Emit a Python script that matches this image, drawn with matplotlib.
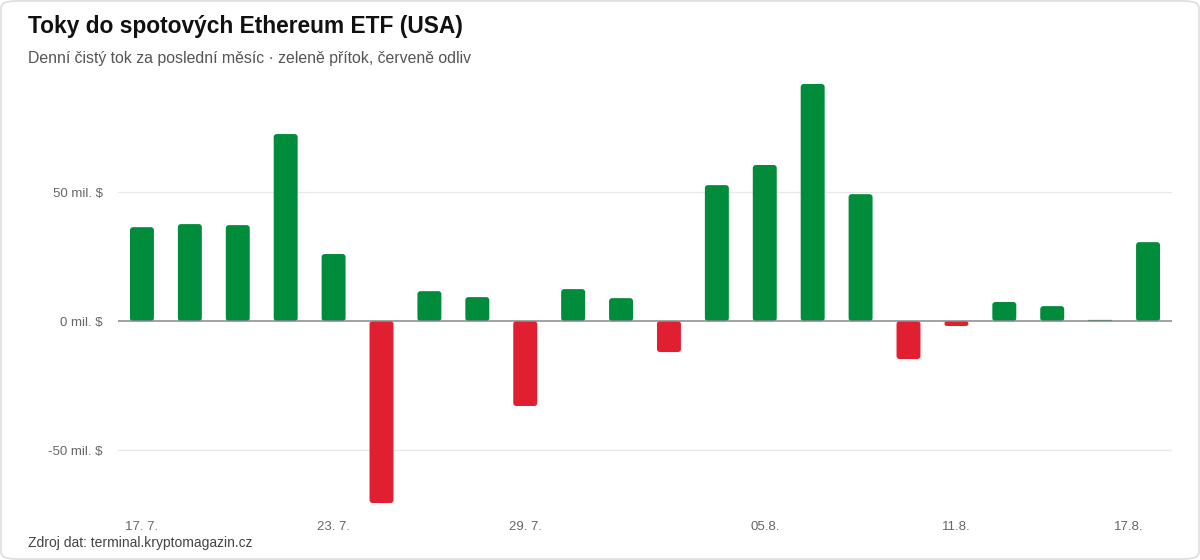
import matplotlib
matplotlib.use("Agg")
import matplotlib.pyplot as plt
from matplotlib.patches import FancyBboxPatch

plt.rcParams['font.family'] = ['Liberation Sans', 'DejaVu Sans']

# daily net flow, mil. USD
flows = [36.4, 37.6, 37.2, 72.5, 26.0, -70.5, 11.6, 9.3, -32.9, 12.4, 8.9,
         -12.0, 52.7, 60.5, 91.9, 49.2, -14.7, -1.9, 7.4, 5.8, 0.0, 30.6]
tick_pos = [0, 4, 8, 13, 17, 20.6]
tick_labels = ["17. 7.", "23. 7.", "29. 7.", "05.8.", "11.8.", "17.8."]
y_ticks = [-50, 0, 50]

GREEN = "#008c3a"
RED = "#e02030"

W, H = 1200, 560
fig = plt.figure(figsize=(W / 100, H / 100), dpi=100)
fig.patch.set_facecolor("white")

# card border
card = FancyBboxPatch((1 / W, 1 / H), 1 - 2 / W, 1 - 2 / H,
                      boxstyle="round,pad=0,rounding_size=0.012",
                      transform=fig.transFigure, facecolor="white",
                      edgecolor="#dddddd", linewidth=1.2, zorder=-10)
fig.patches.append(card)

ax_w, ax_h = 1172 - 118, 503 - 84
ax = fig.add_axes([118 / W, 1 - 503 / H, ax_w / W, ax_h / H])
ax.set_facecolor("none")

ax.set_xlim(-0.5, len(flows) - 0.5)
ax.set_ylim(min(flows), max(flows))

# px per data unit, for rounded bar corners
px_x = ax_w / (len(flows))
px_y = ax_h / (max(flows) - min(flows))

colors = [GREEN if v >= 0 else RED for v in flows]
bars = ax.bar(range(len(flows)), flows, width=0.5, color=colors)
for b, c in zip(bars, colors):
    x0, y0 = b.get_x(), b.get_y()
    w, h = b.get_width(), b.get_height()
    if h < 0:
        y0, h = y0 + h, -h
    h_px = max(h * px_y, 1.2)
    h = h_px / px_y
    r_px = min(3.0, h_px / 2)
    b.set_visible(False)
    p = FancyBboxPatch((x0, y0), w, h,
                       boxstyle=f"round,pad=0,rounding_size={r_px / px_x}",
                       mutation_aspect=px_x / px_y,
                       facecolor=c, edgecolor="none", zorder=3)
    ax.add_patch(p)

ax.set_yticks(y_ticks)
ax.set_yticklabels([f"{t} mil. $" for t in y_ticks])
for t in y_ticks:
    if t == 0:
        ax.axhline(t, color="#888888", linewidth=1.1, zorder=4)
    else:
        ax.axhline(t, color="#e8e8e8", linewidth=0.9, zorder=1)

ax.set_xticks(tick_pos)
ax.set_xticklabels(tick_labels)
ax.tick_params(axis="y", length=0, pad=11, labelsize=9.5, labelcolor="#666666")
ax.tick_params(axis="x", length=0, pad=13, labelsize=9.5, labelcolor="#666666")
for s in ax.spines.values():
    s.set_visible(False)

fig.text(28 / W, 1 - 26 / H, "Toky do spotových Ethereum ETF (USA)",
         fontsize=16.4, fontweight="bold", color="#111111", va="center")
fig.text(28 / W, 1 - 58 / H,
         "Denní čistý tok za poslední měsíc · zeleně přítok, červeně odliv",
         fontsize=11.4, color="#555555", va="center")
fig.text(28 / W, 1 - 543 / H, "Zdroj dat: terminal.kryptomagazin.cz",
         fontsize=10, color="#444444", va="center")

fig.savefig("out.png", dpi=100, facecolor="white")
